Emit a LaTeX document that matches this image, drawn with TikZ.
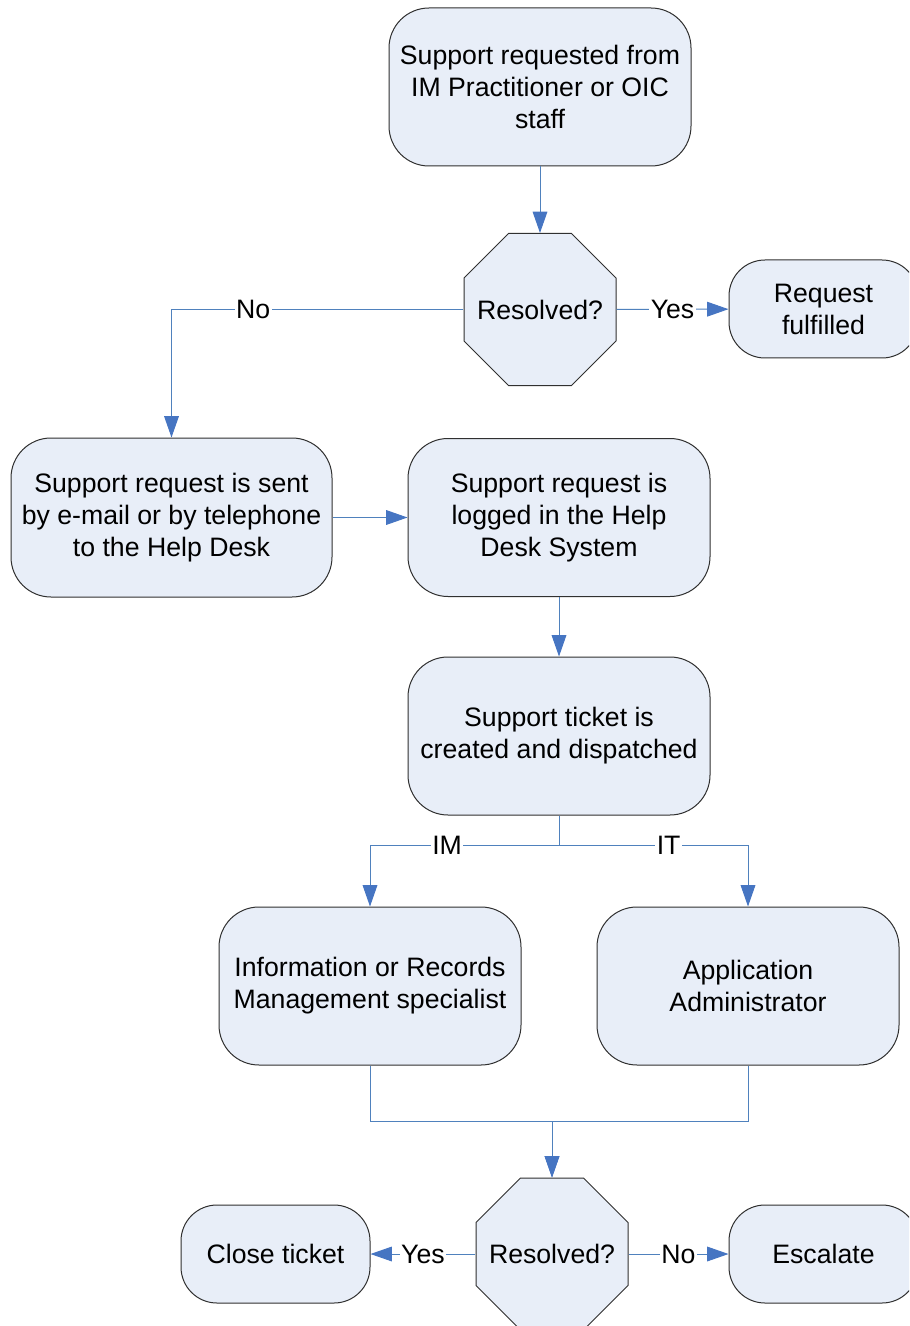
\documentclass[tikz,border=0pt]{standalone}
\usepackage{fontspec}
\setmainfont{Liberation Sans}
\usetikzlibrary{shapes.geometric,arrows.meta}
\definecolor{boxfill}{HTML}{E8EEF8}
\definecolor{boxline}{HTML}{303030}
\definecolor{conn}{HTML}{4F81BD}
\definecolor{tip}{HTML}{4675C2}
\tikzset{
  every node/.style={font=\fontsize{20}{24}\selectfont},
  procbox/.style={draw=boxline, fill=boxfill, line width=0.75pt, rounded corners=30pt,
    minimum width=226.5pt, minimum height=118.5pt, align=center, inner sep=2pt},
  smallbox/.style={procbox, minimum width=141.75pt, minimum height=73.5pt, rounded corners=27pt},
  decision/.style={draw=boxline, fill=boxfill, line width=0.75pt, regular polygon, regular polygon sides=8,
    minimum size=123.4pt, inner sep=0pt, label=center:{#1}},
  flow/.style={draw=conn, line width=0.75pt, -{Triangle[length=16pt,width=11pt,color=tip]}},
  lbl/.style={fill=white, inner sep=1pt}
}
\begin{document}
\begin{tikzpicture}[x=0.75pt,y=-0.75pt]
\clip (0,0) rectangle (909,1326);
\fill[white] (0,0) rectangle (909,1326);
\node[procbox] (start) at (540,87) {Support requested from\\IM Practitioner or OIC\\staff};
\node[decision={Resolved?}] (res1) at (540,309.5) {};
\node[smallbox] (fulfilled) at (823.5,309) {Request\\fulfilled};
\node[procbox, minimum width=240.75pt, minimum height=119.25pt] (sent) at (171.5,517.5) {Support request is sent\\by e-mail or by telephone\\to the Help Desk};
\node[procbox] (logged) at (559,517.5) {Support request is\\logged in the Help\\Desk System};
\node[procbox] (ticket) at (559,736) {Support ticket is\\created and dispatched};
\node[procbox] (im) at (370,986) {Information or Records\\Management specialist};
\node[procbox] (app) at (748,986) {Application\\Administrator};
\node[decision={Resolved?}] (res2) at (552,1254) {};
\node[smallbox] (close) at (275.5,1254) {Close ticket};
\node[smallbox] (esc) at (823.5,1254) {Escalate};

\draw[flow] (start) -- (res1);
\draw[flow] (res1) -- node[lbl]{Yes} (fulfilled);
\draw[flow] (res1.west) -| node[lbl,pos=0.36]{No} (sent.north);
\draw[flow] (sent) -- (logged);
\draw[flow] (logged) -- (ticket);
\draw[flow] (ticket.south) -- ++(0,30) -| node[lbl,pos=0.296]{IM} (im.north);
\draw[flow] (ticket.south) -- ++(0,30) -| node[lbl,pos=0.29]{IT} (app.north);
\draw[flow] (im.south) -- ++(0,56) -| (res2.north);
\draw[flow] (app.south) -- ++(0,56) -| (res2.north);
\draw[flow] (res2) -- node[lbl]{Yes} (close);
\draw[flow] (res2) -- node[lbl]{No} (esc);
\end{tikzpicture}
\end{document}
